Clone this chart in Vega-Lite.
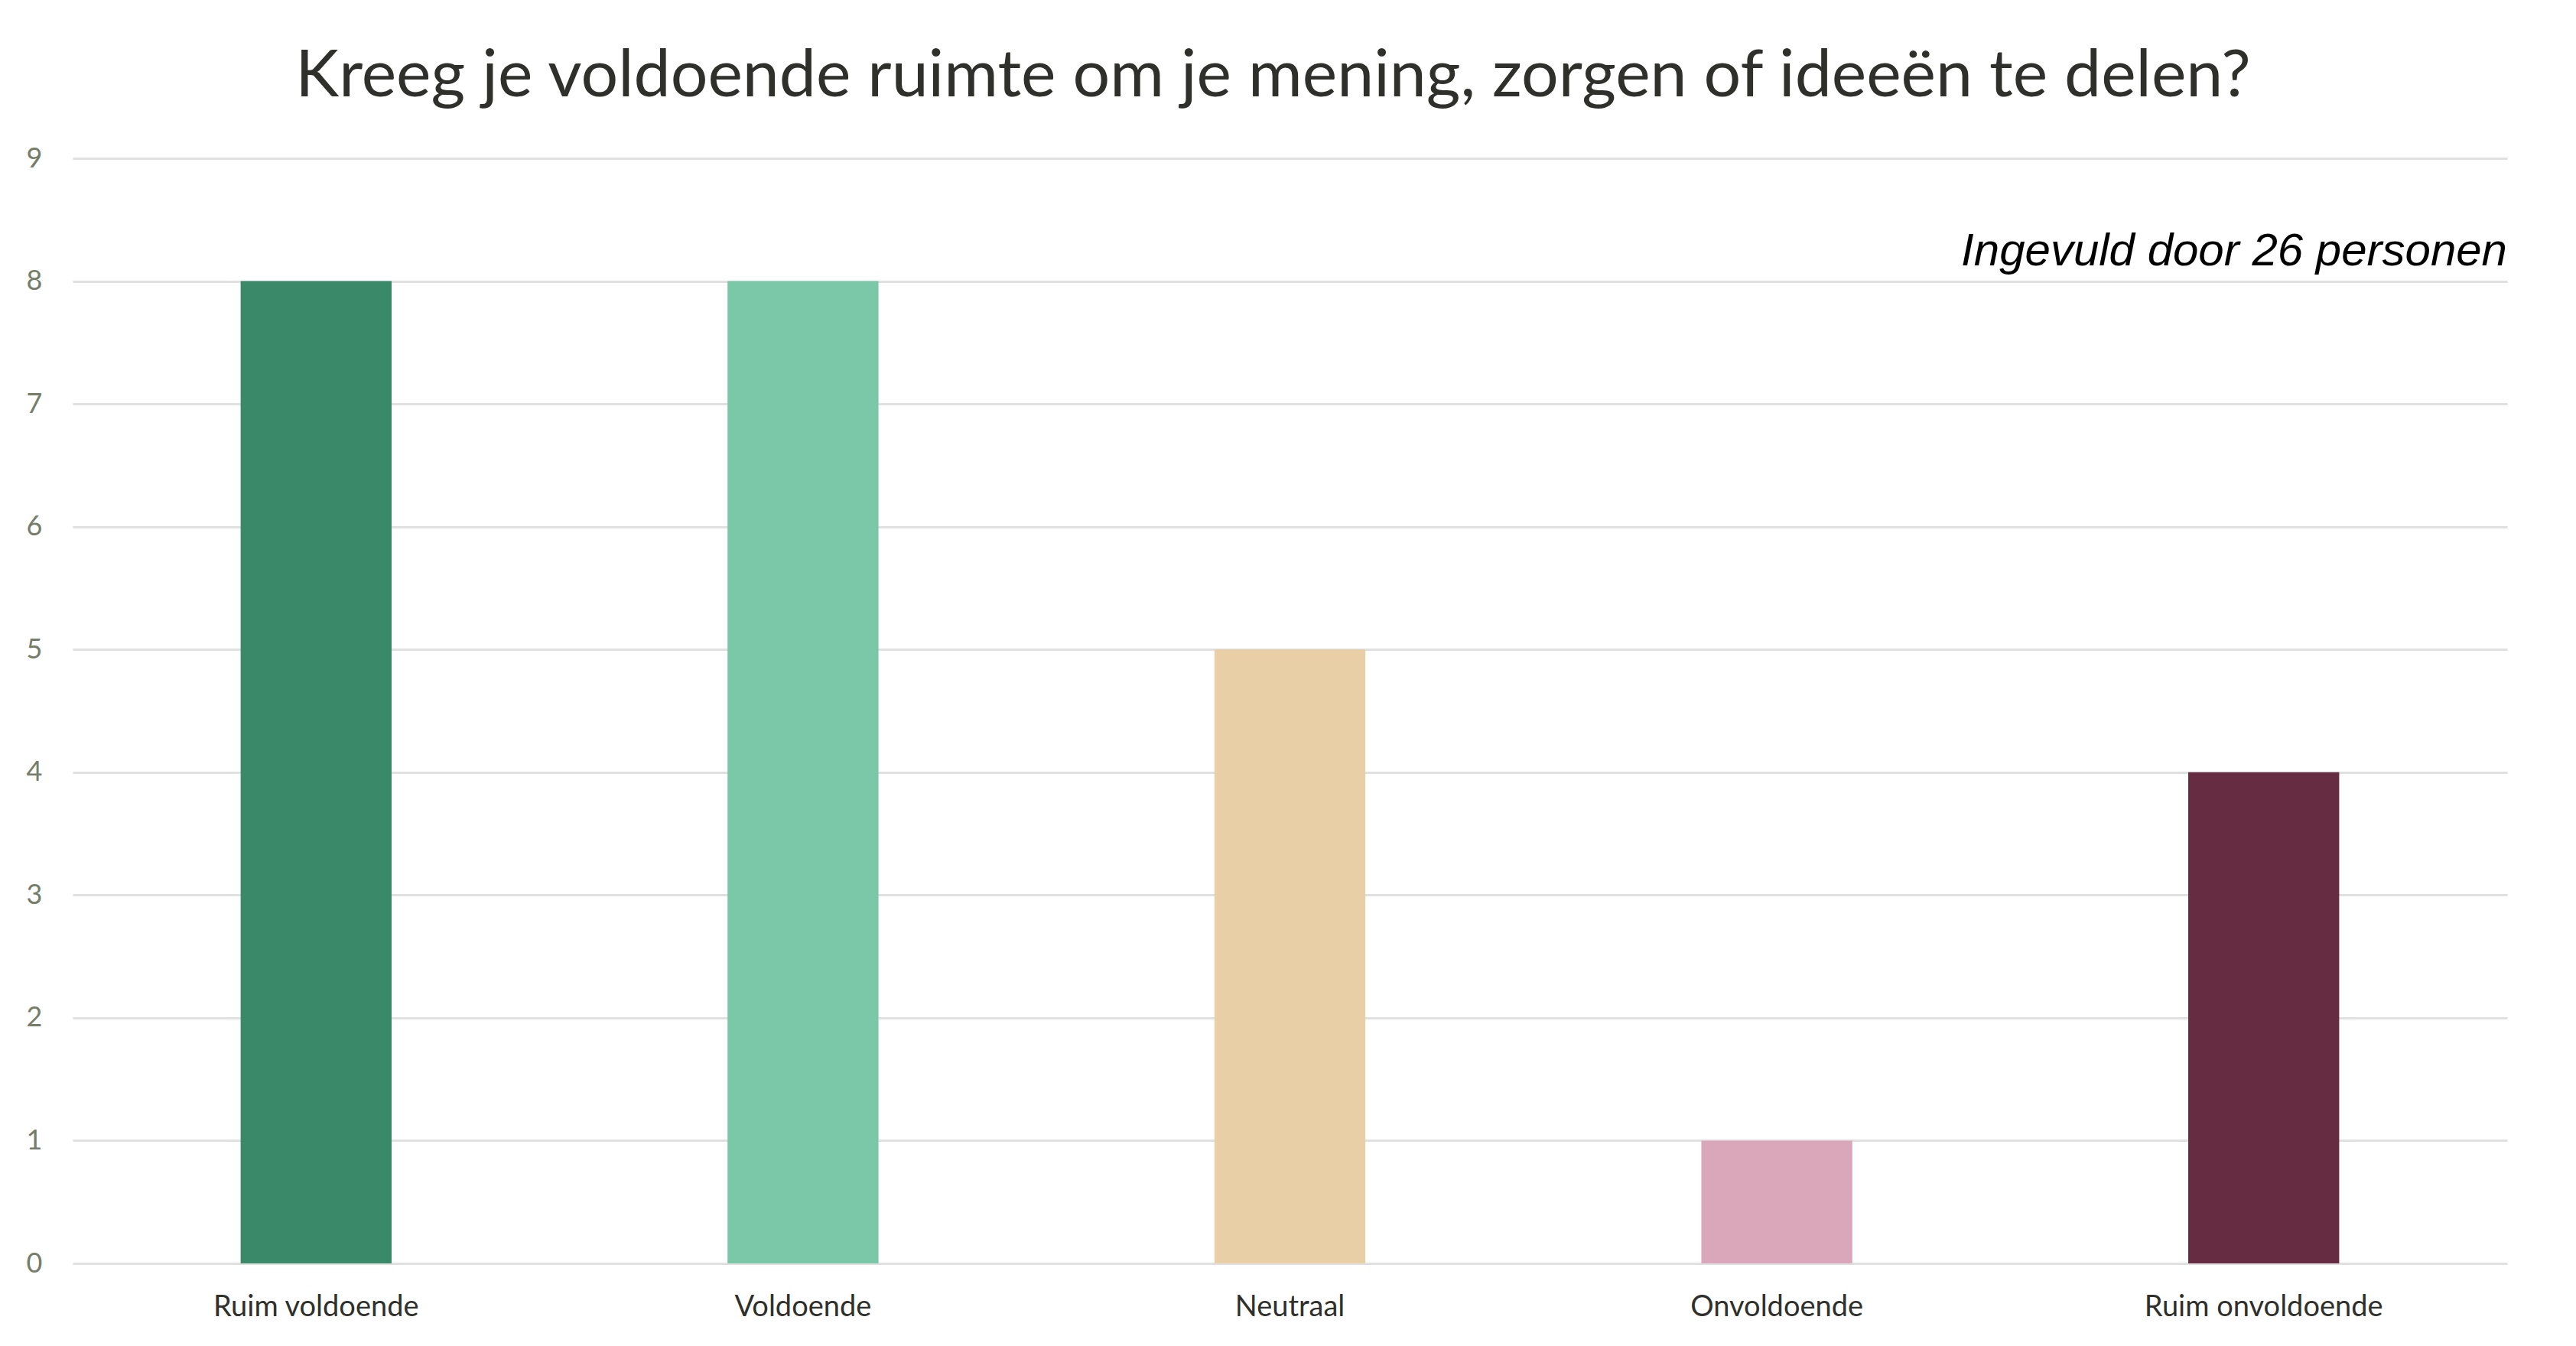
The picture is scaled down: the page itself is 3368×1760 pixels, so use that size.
{
  "$schema": "https://vega.github.io/schema/vega-lite/v6.json",
  "autosize": "none",
  "padding": {"left": 95, "top": 207, "right": 90, "bottom": 108},
  "width": 3183,
  "height": 1445,
  "background": "white",
  "title": {
    "text": "Kreeg je voldoende ruimte om je mening, zorgen of ideeën te delen?",
    "font": "Lato",
    "fontSize": 86,
    "fontWeight": "normal",
    "color": "#2f302b",
    "anchor": "middle",
    "baseline": "alphabetic",
    "offset": -23,
    "dx": -22
  },
  "data": {
    "values": [
      {"antwoord": "Ruim voldoende", "aantal": 8},
      {"antwoord": "Voldoende", "aantal": 8},
      {"antwoord": "Neutraal", "aantal": 5},
      {"antwoord": "Onvoldoende", "aantal": 1},
      {"antwoord": "Ruim onvoldoende", "aantal": 4}
    ]
  },
  "layer": [
    {
      "mark": {"type": "bar"},
      "encoding": {
        "x": {
          "field": "antwoord",
          "type": "nominal",
          "sort": null,
          "title": null,
          "scale": {"paddingInner": 0.69, "paddingOuter": 0.345},
          "axis": {
            "labelAngle": 0,
            "labelFont": "Lato",
            "labelFontSize": 38,
            "labelColor": "#2f302b",
            "labelPadding": 38,
            "labelLimit": 0,
            "ticks": false,
            "domain": false,
            "grid": false
          }
        },
        "y": {
          "field": "aantal",
          "type": "quantitative",
          "title": null,
          "scale": {"domain": [0, 9], "nice": false},
          "axis": {
            "values": [0, 1, 2, 3, 4, 5, 6, 7, 8, 9],
            "format": "d",
            "labelFont": "Lato",
            "labelFontSize": 36,
            "labelColor": "#737d68",
            "labelPadding": 40,
            "ticks": false,
            "domain": false,
            "grid": true,
            "gridColor": "#e0e0e0",
            "gridWidth": 3
          }
        },
        "color": {
          "field": "antwoord",
          "type": "nominal",
          "sort": null,
          "legend": null,
          "scale": {
            "domain": ["Ruim voldoende", "Voldoende", "Neutraal", "Onvoldoende", "Ruim onvoldoende"],
            "range": ["#3a8a69", "#7ac8a7", "#e8cfa5", "#d9a7b9", "#662d42"]
          }
        }
      }
    },
    {
      "data": {"values": [{"tekst": "Ingevuld door 26 personen", "y": 8.13}]},
      "mark": {
        "type": "text",
        "align": "right",
        "baseline": "alphabetic",
        "font": "Liberation Sans",
        "fontStyle": "italic",
        "fontSize": 60,
        "color": "#000000"
      },
      "encoding": {
        "x": {"value": "width"},
        "y": {"field": "y", "type": "quantitative"},
        "text": {"field": "tekst"}
      }
    }
  ],
  "config": {"view": {"stroke": null}}
}
